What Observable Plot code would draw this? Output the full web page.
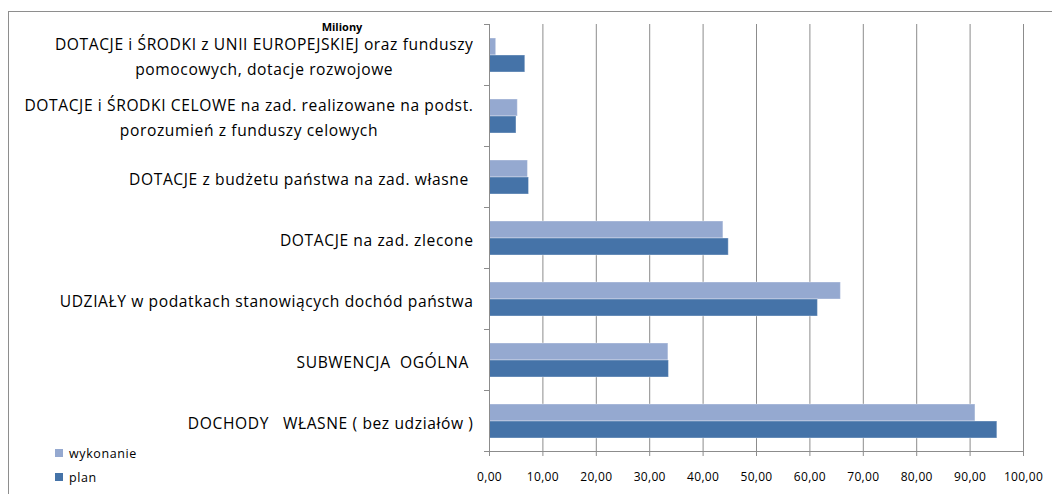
<!DOCTYPE html>
<html>
<head>
<meta charset="utf-8">
<script src="https://cdn.jsdelivr.net/npm/d3@7"></script>
<script src="https://cdn.jsdelivr.net/npm/@observablehq/plot@0.6"></script>
<style>
  html, body { margin: 0; padding: 0; background: #fff; }
  #wrap { position: relative; width: 1052px; height: 494px; overflow: hidden; font-family: "Open Sans", sans-serif; }
  #frame { position: absolute; left: 8px; top: 11px; width: 1100px; height: 520px; border: 1px solid #8e8e8e; box-sizing: border-box; }
  #chart { position: absolute; left: 0; top: 0; }
  #chart svg text { white-space: pre; }
  #chart g[aria-label="fy-axis tick label"] text { letter-spacing: 0.6px; }
  #chart g[aria-label="x-axis tick label"] text { letter-spacing: 0.3px; }
  #unit { position: absolute; left: 342px; top: 19px; transform: translateX(-50%); font-weight: bold; font-size: 11px; color: #000; }
  #legend { position: absolute; left: 55px; top: 441px; font-size: 12.5px; letter-spacing: 0.6px; color: #000; }
  #legend .item { display: flex; align-items: center; height: 24px; }
  #legend .sw { width: 8px; height: 8px; margin-right: 6px; }
</style>
</head>
<body>
<div id="wrap">
  <div id="frame"></div>
  <div id="chart"></div>
  <div id="unit">Miliony</div>
  <div id="legend"></div>
</div>
<script>
const categories = [
  "DOTACJE i ŚRODKI z UNII EUROPEJSKIEJ oraz funduszy\npomocowych, dotacje rozwojowe",
  "DOTACJE i ŚRODKI CELOWE na zad. realizowane na podst.\nporozumień z funduszy celowych",
  "DOTACJE z budżetu państwa na zad. własne ",
  "DOTACJE na zad. zlecone",
  "UDZIAŁY w podatkach stanowiących dochód państwa",
  "SUBWENCJA  OGÓLNA ",
  "DOCHODY   WŁASNE ( bez udziałów )"
];
const series = ["wykonanie", "plan"];
const wykonanie = [1.25, 5.3, 7.2, 43.8, 65.8, 33.5, 91.0];
const plan = [6.7, 5.05, 7.4, 44.8, 61.5, 33.6, 95.1];
const xTicks = [0, 10, 20, 30, 40, 50, 60, 70, 80, 90, 100];
const colors = ["#95a9d0", "#4573a8"];
const unitLabel = "Miliony";

const data = categories.flatMap((c, i) => [
  {category: c, series: "wykonanie", value: wykonanie[i]},
  {category: c, series: "plan", value: plan[i]}
]);

const W = 1052, H = 494, mL = 489, mR = 29, mT = 24, mB = 43;
const plotW = W - mL - mR;
const gray = "#8c8c8c";
const fmt = d => d.toFixed(2).replace(".", ",");

const chart = Plot.plot({
  width: W, height: H,
  marginLeft: mL, marginRight: mR, marginTop: mT, marginBottom: mB,
  style: {fontFamily: "'Open Sans', sans-serif", background: "transparent", color: "#000", overflow: "visible"},
  x: {domain: [0, 100], axis: null},
  y: {domain: series, paddingInner: 0, paddingOuter: 0.745, axis: null},
  fy: {domain: categories, padding: 0, axis: null},
  color: {domain: series, range: colors},
  marks: [
    Plot.gridX({ticks: xTicks, stroke: gray, strokeOpacity: 1, strokeWidth: 1}),
    Plot.barX(data, {fy: "category", y: "series", x: "value", fill: "series", stroke: "#ffffff", strokeOpacity: 0.35, strokeWidth: 1}),
    Plot.ruleX([0], {stroke: gray}),
    Plot.frame({anchor: "top", stroke: gray, insetLeft: -5, insetRight: plotW}),
    Plot.frame({anchor: "bottom", stroke: gray, insetLeft: -5, insetRight: plotW}),
    Plot.frame({anchor: "bottom", stroke: gray, fy: categories[categories.length - 1]}),
    Plot.axisX({ticks: xTicks, tickFormat: fmt, tickSize: 5, tickPadding: 16, stroke: gray, fill: "#000", fontSize: 12, label: null}),
    Plot.axisFy({anchor: "left", tickSize: 0, tickPadding: 16, fontSize: 15.6, lineHeight: 1.6, dy: -0.5, fill: "#000", label: null})
  ]
});
document.getElementById("chart").appendChild(chart);
document.getElementById("unit").textContent = unitLabel;

// center multi-line category labels on each other (right edge of block at the tick position)
chart.querySelectorAll('g[aria-label="fy-axis tick label"] text').forEach(t => {
  const spans = t.querySelectorAll("tspan");
  if (spans.length < 2) return;
  let w = 0;
  spans.forEach(s => { w = Math.max(w, s.getComputedTextLength()); });
  t.setAttribute("text-anchor", "middle");
  spans.forEach(s => s.setAttribute("x", -w / 2));
});

const legend = document.getElementById("legend");
series.forEach((s, i) => {
  const item = document.createElement("div");
  item.className = "item";
  const sw = document.createElement("div");
  sw.className = "sw";
  sw.style.background = colors[i];
  const lab = document.createElement("span");
  lab.textContent = s;
  item.appendChild(sw);
  item.appendChild(lab);
  legend.appendChild(item);
});
</script>
</body>
</html>
